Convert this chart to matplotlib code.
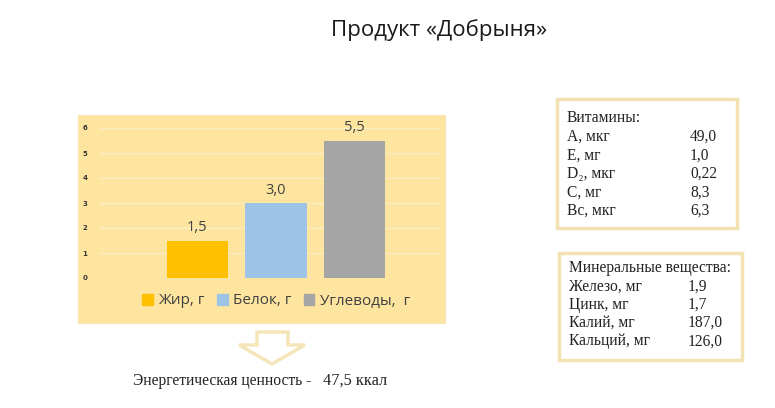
import matplotlib
matplotlib.use("Agg")
import matplotlib.pyplot as plt
from matplotlib.patches import Rectangle, Polygon

# chart data
series = ["Жир, г", "Белок, г", "Углеводы,  г"]
values = [1.5, 3.0, 5.5]
value_labels = ["1,5", "3,0", "5,5"]
colors = ["#FFC000", "#9DC3E6", "#A5A5A5"]
yticks = [0, 1, 2, 3, 4, 5, 6]

# side tables
vit_names = ["А, мкг", "Е, мг", "D\u2082, мкг", "С, мг", "Вс, мкг"]
vit_values = ["49,0", "1,0", "0,22", "8,3", "6,3"]
min_names = ["Железо, мг", "Цинк, мг", "Калий, мг", "Кальций, мг"]
min_values = ["1,9", "1,7", "187,0", "126,0"]
energy_label = "Энергетическая ценность -"
energy_value = "47,5 ккал"

W, H = 775, 408
fig = plt.figure(figsize=(W / 100, H / 100), dpi=100)
fig.patch.set_facecolor("white")


def fx(px):
    return px / W


def fy(py):
    return 1 - py / H


sans = ["Open Sans", "DejaVu Sans"]
serif = ["Liberation Serif", "DejaVu Serif"]
ink = "#222222"

# chart area background
fig.patches.append(Rectangle((fx(78), fy(323)), fx(445) - fx(78), fy(115) - fy(323),
                             transform=fig.transFigure, facecolor="#FEE59F",
                             edgecolor="#F8E6B8", lw=1, zorder=-1))

ax = fig.add_axes([fx(100), fy(278), fx(440) - fx(100), fy(128) - fy(278)])
ax.set_facecolor("none")
x = [-1, 0, 1]
ax.bar(x, values, width=0.78, color=colors, zorder=3)
for xi, v, lab in zip(x, values, value_labels):
    ax.text(xi, v + 0.22, lab, ha="center", va="bottom", fontsize=10.5,
            color="#404040", family=sans)
ax.set_xlim(-2.24, 2.09)
ax.set_ylim(0, 6)
ax.set_yticks(yticks)
ax.set_yticklabels([str(t) for t in yticks], fontsize=5, color="#333333",
                   fontweight="bold")
ax.tick_params(axis="y", length=0, pad=9)
ax.set_xticks([])
ax.grid(axis="y", color="#FAEDC4", lw=0.9, zorder=0)
for s in ax.spines.values():
    s.set_visible(False)

# legend
handles = [Rectangle((0, 0), 1, 1, color=c) for c in colors]
fig.legend(handles, series, loc="center", bbox_to_anchor=(fx(276), fy(301)),
           ncol=3, frameon=False, prop={"family": sans, "size": 11},
           handlelength=0.7, handleheight=0.7, handletextpad=0.35,
           columnspacing=0.8, labelcolor="#404040")

# title
fig.text(fx(439), fy(30), "Продукт «Добрыня»", ha="center", va="center",
         fontsize=16, family=sans, color="#1a1a1a")


def table_box(x0, y0, x1, y1, header, head_off, names, vals, vx, step):
    fig.patches.append(Rectangle((fx(x0), fy(y1)), fx(x1) - fx(x0), fy(y0) - fy(y1),
                                 transform=fig.transFigure, facecolor="white",
                                 edgecolor="#F3E3B3", lw=2.5, zorder=1))
    ty = y0 + head_off
    fig.text(fx(x0 + 10), fy(ty), header, va="center", fontsize=11.2,
             family=serif, color=ink)
    for i, (n, v) in enumerate(zip(names, vals)):
        yy = ty + step * (i + 1)
        fig.text(fx(x0 + 10), fy(yy), n, va="center", fontsize=11.2,
                 family=serif, color=ink)
        fig.text(fx(vx), fy(yy), v, va="center", fontsize=11.2,
                 family=serif, color=ink)


table_box(557, 99, 737, 228, "Витамины:", 19, vit_names, vit_values, 690, 18.6)
table_box(559, 253, 742, 360, "Минеральные вещества:", 15, min_names, min_values, 688, 18.3)

# arrow outline
arrow_px = [(257, 332), (288, 332), (288, 345), (305, 345), (272, 364),
            (239, 345), (257, 345)]
fig.patches.append(Polygon([(fx(a), fy(b)) for a, b in arrow_px], closed=True,
                           transform=fig.transFigure, facecolor="white",
                           edgecolor="#F5E6BA", lw=2.5, zorder=1))

fig.text(fx(133), fy(381), energy_label, va="center", fontsize=11.2, family=serif,
         color=ink)
fig.text(fx(323), fy(381), energy_value, va="center", fontsize=11.8, family=serif,
         color=ink)

fig.savefig("out.png", dpi=100)
